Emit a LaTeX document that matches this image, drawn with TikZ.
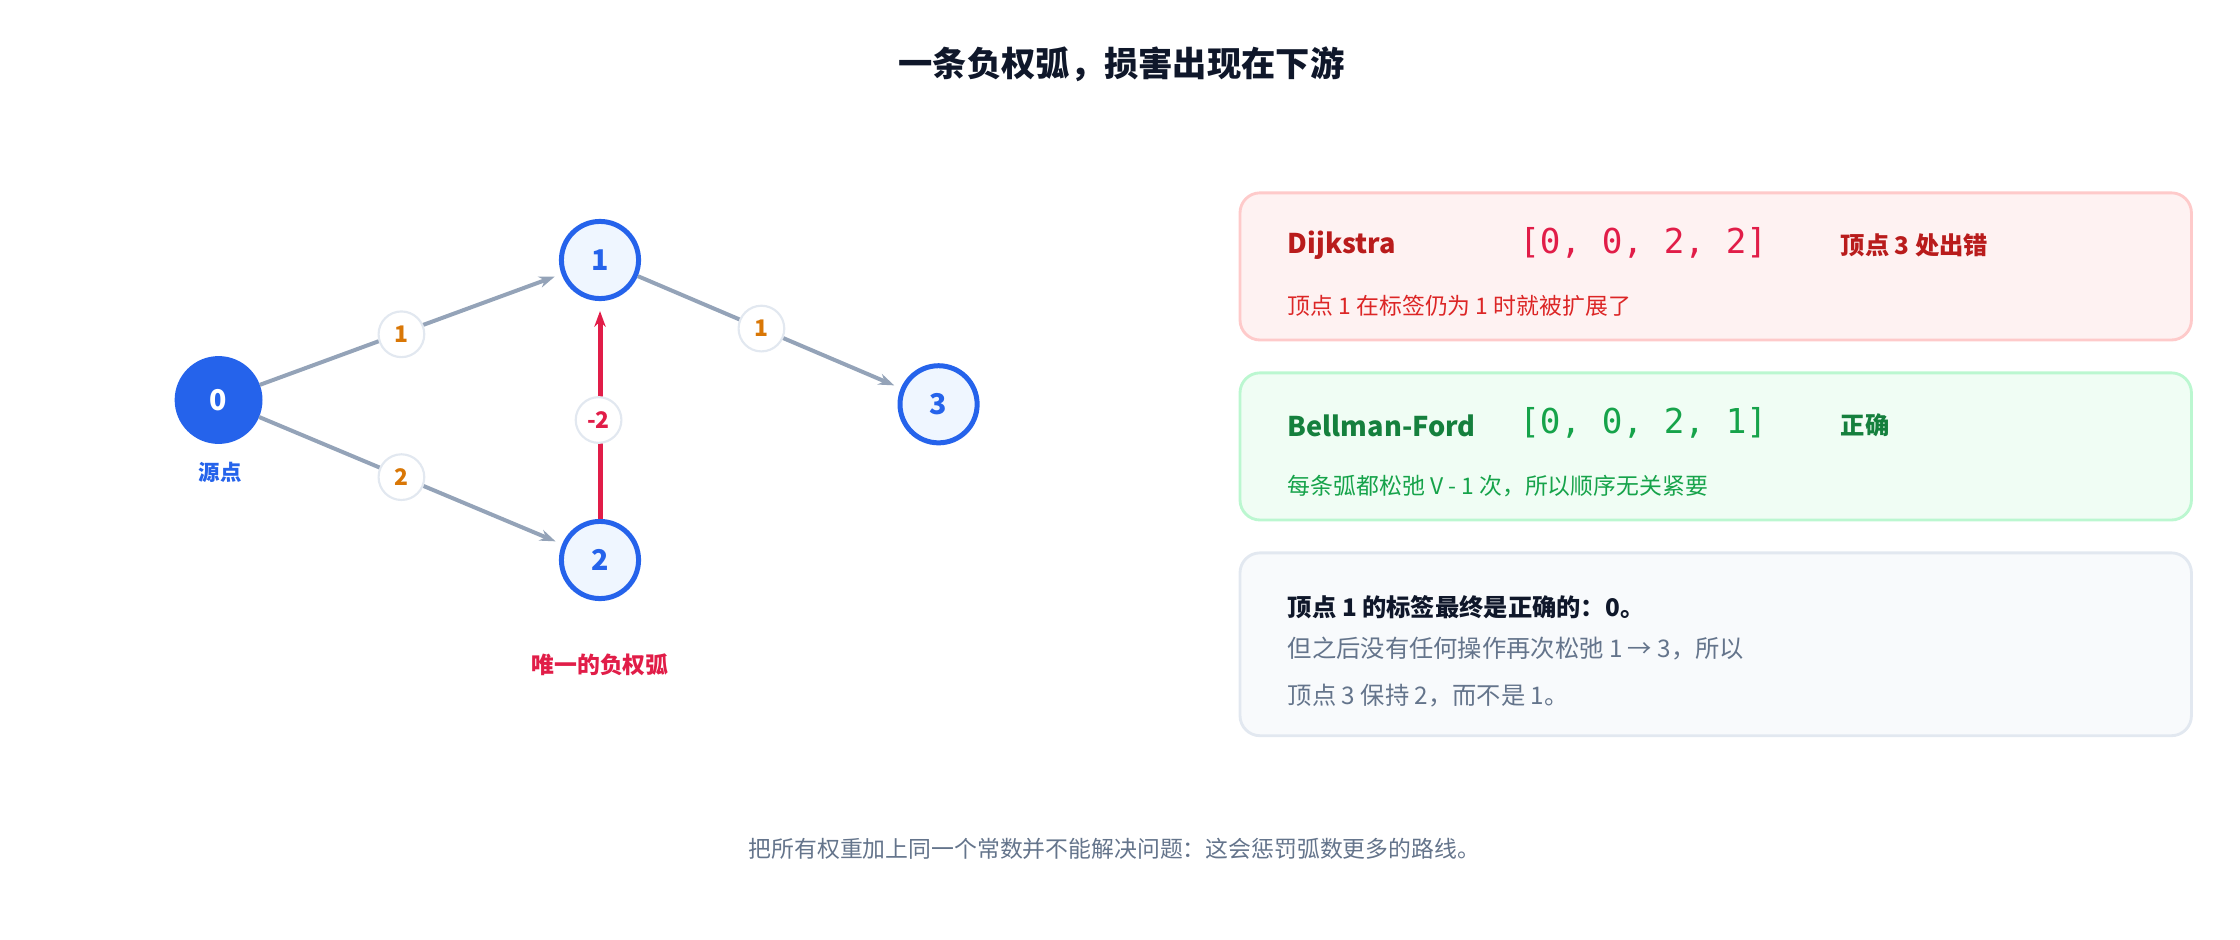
\documentclass[tikz,border=0pt]{standalone}
\usepackage{fontspec}
\setmainfont{Noto Sans CJK SC}
\setmonofont{DejaVu Sans Mono}
\usetikzlibrary{arrows.meta}
\definecolor{nodeblue}{HTML}{2563EB}
\definecolor{nodefill}{HTML}{EFF6FF}
\definecolor{edgegray}{HTML}{94A3B8}
\definecolor{negred}{HTML}{E11D48}
\definecolor{wtorange}{HTML}{D97706}
\definecolor{wtline}{HTML}{E2E8F0}
\definecolor{titlenavy}{HTML}{0F172A}
\definecolor{textgray}{HTML}{64748B}
\definecolor{badred}{HTML}{B91C1C}
\definecolor{badsub}{HTML}{DC2626}
\definecolor{badfill}{HTML}{FEF2F2}
\definecolor{badline}{HTML}{FECACA}
\definecolor{okgreen}{HTML}{15803D}
\definecolor{oksub}{HTML}{16A34A}
\definecolor{okfill}{HTML}{F0FDF4}
\definecolor{okline}{HTML}{BBF7D0}
\definecolor{notefill}{HTML}{F8FAFC}
\begin{document}
\begin{tikzpicture}[
        x=1pt, y=-1pt,
        font=\fontsize{16}{19}\selectfont
    ]
    \tikzset{
        vnode/.style = {circle, draw=nodeblue, line width=3.5pt, fill=nodefill,
            minimum size=54pt, inner sep=0pt, text=nodeblue, font=\fontsize{20}{24}\selectfont\bfseries},
        srcnode/.style = {vnode, fill=nodeblue, text=white, minimum size=58pt},
        wnode/.style = {circle, draw=wtline, line width=1.5pt, fill=white, minimum size=32pt,
            inner sep=0pt, text=wtorange, font=\fontsize{16}{19}\selectfont\bfseries},
        edgen/.style = {-{Stealth[length=11pt,width=8pt]}, line width=2.8pt, edgegray, shorten >=5pt},
        edger/.style = {-{Stealth[length=11pt,width=8pt]}, line width=3.5pt, negred, shorten >=7pt},
        box/.style = {rounded corners=14pt, line width=2pt},
        head/.style = {anchor=west, font=\fontsize{19}{23}\selectfont\bfseries},
        dist/.style = {anchor=west, font=\fontsize{24}{28}\selectfont\ttfamily},
        sub/.style = {anchor=west, font=\fontsize{16}{19}\selectfont},
    }
    \useasboundingbox (0,0) rectangle (1568,658);
    \node[font=\fontsize{24}{28}\selectfont\bfseries, text=titlenavy] at (785,45) (title) {一条负权弧，损害出现在下游};
    %
    \node[srcnode] at (153,280) (v0) {0};
    \node[vnode] at (420,182) (v1) {1};
    \node[vnode] at (420,392) (v2) {2};
    \node[vnode] at (657,283) (v3) {3};
    \node[text=nodeblue, font=\fontsize{15}{18}\selectfont\bfseries] at (154,331) (src) {源点};
    \node[text=negred, font=\fontsize{16}{19}\selectfont\bfseries] at (420,465) (neg) {唯一的负权弧};
    %
    \draw[edgen] (v0) edge (v1);
    \draw[edgen] (v0) edge (v2);
    \draw[edgen] (v1) edge (v3);
    \draw[edger] (v2) edge (v1);
    \node[wnode] at (281,234) (w01) {1};
    \node[wnode] at (281,334) (w02) {2};
    \node[wnode] at (533,230) (w13) {1};
    \node[wnode, text=negred] at (419,294) (w21) {-2};
    %
    \draw[box, draw=badline, fill=badfill] (868,135) rectangle (1534,238);
    \draw[box, draw=okline, fill=okfill] (868,261) rectangle (1534,364);
    \draw[box, draw=wtline, fill=notefill] (868,387) rectangle (1534,515);
    %
    \node[head, text=badred] at (898,172) (dijk) {Dijkstra};
    \node[dist, text=negred] at (1060,170) (ddist) {[0, 0, 2, 2]};
    \node[head, text=badred, font=\fontsize{17}{20}\selectfont\bfseries] at (1285,172) (dbad) {顶点 3 处出错};
    \node[sub, text=badsub] at (898,214) (dsub) {顶点 1 在标签仍为 1 时就被扩展了};
    %
    \node[head, text=okgreen] at (898,298) (bf) {Bellman-Ford};
    \node[dist, text=oksub] at (1060,296) (bdist) {[0, 0, 2, 1]};
    \node[head, text=okgreen, font=\fontsize{17}{20}\selectfont\bfseries] at (1285,298) (bok) {正确};
    \node[sub, text=oksub] at (898,340) (bsub) {每条弧都松弛 V - 1 次，所以顺序无关紧要};
    %
    \node[sub, text=titlenavy, font=\fontsize{17}{20}\selectfont\bfseries] at (898,425) (n1) {顶点 1 的标签最终是正确的：0。};
    \node[sub, text=textgray, font=\fontsize{17}{20}\selectfont] at (898,454) (n2) {但之后没有任何操作再次松弛 1 → 3，所以};
    \node[sub, text=textgray, font=\fontsize{17}{20}\selectfont] at (898,487) (n3) {顶点 3 保持 2，而不是 1。};
    %
    \node[text=textgray] at (780,594) (foot) {把所有权重加上同一个常数并不能解决问题：这会惩罚弧数更多的路线。};
\end{tikzpicture}
\end{document}
